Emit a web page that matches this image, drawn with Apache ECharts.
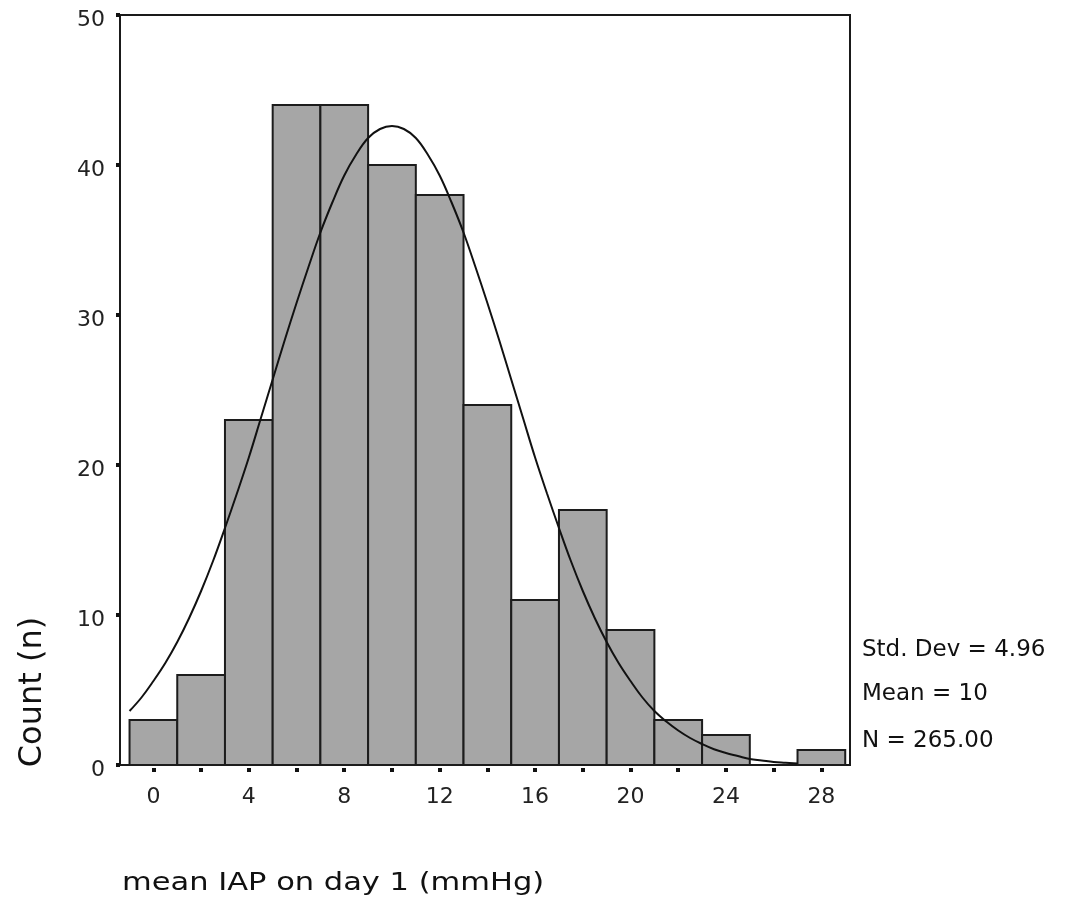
<!DOCTYPE html>
<html>
<head>
<meta charset="utf-8">
<script src="https://cdn.jsdelivr.net/npm/echarts@6/dist/echarts.min.js"></script>
<style>html,body{margin:0;padding:0;background:#fff;}#c{width:1066px;height:898px;}</style>
</head>
<body>
<div id="c"></div>
<script>
// Histogram bins (bin centres, width 2 mmHg) and counts
var binCenters = [0, 2, 4, 6, 8, 10, 12, 14, 16, 18, 20, 22, 24, 26, 28];
var binCounts  = [3, 6, 23, 44, 44, 40, 38, 24, 11, 17, 9, 3, 2, 0, 1];
var binWidth = 2;
// Fitted normal curve
var curveX = [-1, -0.5, 0, 0.5, 1, 1.5, 2, 2.5, 3, 3.5, 4, 4.5, 5, 5.5, 6, 6.5, 7, 7.5, 8, 8.5, 9, 9.5, 10,
              10.5, 11, 11.5, 12, 12.5, 13, 13.5, 14, 14.5, 15, 15.5, 16, 16.5, 17, 17.5, 18, 18.5, 19, 19.5, 20,
              20.5, 21, 21.5, 22, 22.5, 23, 23.5, 24, 24.5, 25, 25.5, 26, 26.5, 27];
var curveY = [3.6, 4.5, 5.6, 6.8, 8.2, 9.8, 11.6, 13.6, 15.8, 18.1, 20.5, 23.1, 25.7, 28.3, 30.8, 33.2, 35.5, 37.5, 39.3, 40.7, 41.8, 42.4, 42.6,
              42.4, 41.8, 40.7, 39.3, 37.5, 35.5, 33.2, 30.8, 28.3, 25.7, 23.1, 20.5, 18.1, 15.8, 13.6, 11.6, 9.8, 8.2, 6.8, 5.6,
              4.5, 3.6, 2.9, 2.3, 1.8, 1.4, 1.05, 0.8, 0.6, 0.4, 0.3, 0.2, 0.15, 0.1];
// Axis ticks
var xTickValues = [0, 2, 4, 6, 8, 10, 12, 14, 16, 18, 20, 22, 24, 26, 28];
var xLabelValues = [0, 4, 8, 12, 16, 20, 24, 28];
var yMin = 0, yMax = 50, yStep = 10;
var statLines = ['Std. Dev = 4.96', 'Mean = 10', 'N = 265.00'];
var xTitle = 'mean IAP on day 1 (mmHg)';
var yTitle = 'Count (n)';

var chart = echarts.init(document.getElementById('c'), null, {renderer: 'canvas'});
var FONT = 'DejaVu Sans';
var barData = binCenters.map(function (c, i) { return [c, binCounts[i]]; });
var curveData = curveX.map(function (x, i) { return [x, curveY[i]]; });

var option = {
  animation: false,
  backgroundColor: '#ffffff',
  grid: {left: 120, right: 216, top: 15, bottom: 133, show: true, borderColor: '#1a1a1a', borderWidth: 2, backgroundColor: 'transparent'},
  xAxis: {
    type: 'value', min: -1.4, max: 29.2, offset: 3,
    axisLine: {show: false, onZero: false},
    splitLine: {show: false},
    axisTick: {show: true, length: 4, customValues: xTickValues, lineStyle: {color: '#111', width: 4}},
    axisLabel: {show: true, customValues: xLabelValues, margin: 18, fontFamily: FONT, fontSize: 22, color: '#222'}
  },
  yAxis: {
    type: 'value', min: yMin, max: yMax, interval: yStep,
    axisLine: {show: false, onZero: false},
    splitLine: {show: false},
    axisTick: {show: true, length: 4, lineStyle: {color: '#111', width: 4}},
    axisLabel: {margin: 15, fontFamily: FONT, fontSize: 22, color: '#222', verticalAlign: 'top', lineHeight: 10}
  },
  series: [
    {
      type: 'custom',
      data: barData,
      z: 2,
      renderItem: function (params, api) {
        var c = api.value(0), v = api.value(1);
        if (!v) return null;
        var p0 = api.coord([c - binWidth / 2, v]);
        var p1 = api.coord([c + binWidth / 2, 0]);
        return {
          type: 'rect',
          shape: {x: p0[0], y: p0[1], width: p1[0] - p0[0], height: p1[1] - p0[1]},
          style: {fill: '#a6a6a6', stroke: '#1c1c1c', lineWidth: 2}
        };
      }
    },
    {
      type: 'line',
      data: curveData,
      z: 5,
      smooth: 0.4,
      showSymbol: false,
      lineStyle: {color: '#111', width: 2}
    }
  ],
  graphic: [
    {type: 'text', left: 122, top: 871, style: {text: xTitle, font: '25px "' + FONT + '"', fill: '#111'}, scaleX: 1.22},
    {type: 'text', x: 33, y: 692, rotation: Math.PI / 2, style: {text: yTitle, font: '32px "' + FONT + '"', fill: '#111', align: 'center', verticalAlign: 'middle'}},
    {type: 'text', x: 862, y: 650, style: {text: statLines[0], font: '23px "' + FONT + '"', fill: '#111', verticalAlign: 'middle'}},
    {type: 'text', x: 862, y: 694, style: {text: statLines[1], font: '23px "' + FONT + '"', fill: '#111', verticalAlign: 'middle'}},
    {type: 'text', x: 862, y: 741, style: {text: statLines[2], font: '23px "' + FONT + '"', fill: '#111', verticalAlign: 'middle'}}
  ]
};
chart.setOption(option);
</script>
</body>
</html>
